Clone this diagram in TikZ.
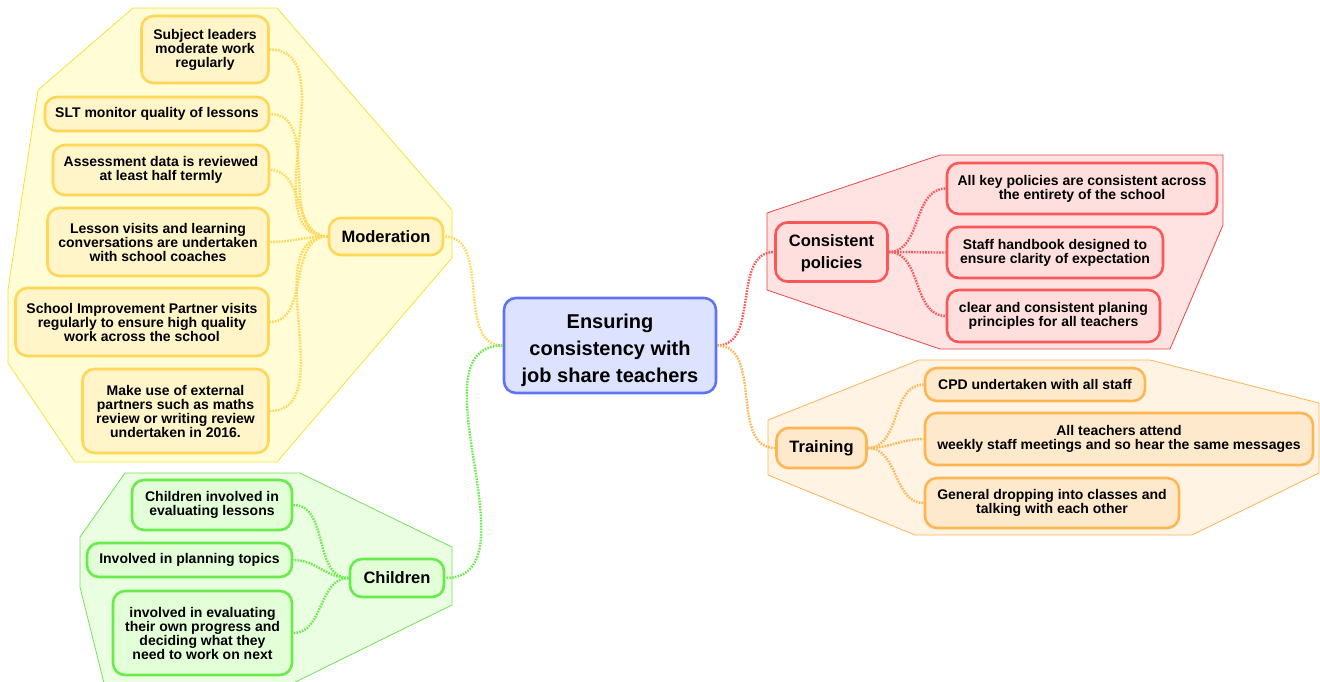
\documentclass[tikz,border=0pt]{standalone}
\usepackage{fontspec}
\setmainfont{Liberation Sans}
\definecolor{ylwD}{RGB}{255,214,85}
\definecolor{ylwL}{RGB}{255,245,200}
\definecolor{ylwH}{RGB}{255,252,214}
\definecolor{ylwE}{RGB}{240,228,60}
\definecolor{grnD}{RGB}{105,235,75}
\definecolor{grnL}{RGB}{226,255,216}
\definecolor{grnH}{RGB}{234,255,226}
\definecolor{grnE}{RGB}{110,228,85}
\definecolor{redD}{RGB}{250,88,88}
\definecolor{redL}{RGB}{255,222,222}
\definecolor{redH}{RGB}{255,226,226}
\definecolor{redE}{RGB}{235,70,70}
\definecolor{orgD}{RGB}{255,182,82}
\definecolor{orgL}{RGB}{255,233,204}
\definecolor{orgH}{RGB}{255,244,228}
\definecolor{orgE}{RGB}{255,178,85}
\definecolor{bluD}{RGB}{95,115,245}
\definecolor{bluL}{RGB}{221,227,255}
\begin{document}
\begin{tikzpicture}
  [x=1pt,y=-1pt,
   baseN/.style={rectangle,rounded corners=12pt,line width=2.6pt,align=center,inner sep=2pt,
                 font=\fontsize{14}{14}\selectfont\bfseries},
   mainN/.style={baseN,font=\fontsize{16.5}{22}\selectfont\bfseries},
   yN/.style={baseN,draw=ylwD,fill=ylwL},
   gN/.style={baseN,draw=grnD,fill=grnL},
   rN/.style={baseN,draw=redD,fill=redL},
   oN/.style={baseN,draw=orgD,fill=orgL},
   hull/.style={line width=0.8pt,line join=round},
   conn/.style={line width=2.4pt,dash pattern=on 1.6pt off 1.2pt}]

  \useasboundingbox (0,0) rectangle (1320,681);

  % group areas
  \fill[ylwH,draw=ylwE,hull] (133,8) -- (277,8) -- (452,210) -- (452,258) -- (277,462)
    -- (75,462) -- (8,363) -- (8,290) -- (38,90) -- cycle;
  \fill[grnH,draw=grnE,hull] (125,473) -- (300,473) -- (452,547) -- (452,605) -- (269,695)
    -- (107,695) -- (80,587) -- (80,537) -- cycle;
  \fill[redH,draw=redE,hull] (940,155) -- (1223,155) -- (1223,225) -- (1170,349)
    -- (940,349) -- (767,290) -- (767,213) -- cycle;
  \fill[orgH,draw=orgE,hull] (919,360) -- (1150,360) -- (1319,403) -- (1319,473)
    -- (1192,535) -- (915,535) -- (768,475) -- (768,420) -- cycle;

  \node[baseN,draw=bluD,fill=bluL,font=\fontsize{20}{27}\selectfont\bfseries,
        minimum width=212,minimum height=95] (c) at (610,345.5)
        {\rule{0pt}{25pt}Ensuring\\consistency with\\job share teachers};

  \node[mainN,draw=ylwD,fill=ylwL,minimum width=114,minimum height=37] (mod) at (386,236.5) {Moderation};
  \node[mainN,draw=grnD,fill=grnL,minimum width=94,minimum height=38] (chi) at (397,578) {Children};
  \node[mainN,draw=redD,fill=redL,minimum width=112,minimum height=59] (pol) at (831.5,252) {\rule{0pt}{15pt}Consistent\\policies};
  \node[mainN,draw=orgD,fill=orgL,minimum width=90,minimum height=40] (tra) at (821.5,448) {Training};

  \node[yN,minimum width=127,minimum height=67] (m1) at (205,49.5) {Subject leaders\\moderate work\\regularly};
  \node[yN,minimum width=224,minimum height=34] (m2) at (157,114) {SLT monitor quality of lessons};
  \node[yN,minimum width=216,minimum height=50] (m3) at (161,170) {Assessment data is reviewed\\at least half termly};
  \node[yN,minimum width=221,minimum height=68] (m4) at (158,242) {Lesson visits and learning\\conversations are undertaken\\with school coaches};
  \node[yN,minimum width=253,minimum height=68] (m5) at (142,322) {School Improvement Partner visits\\regularly to ensure high quality\\work across the school};
  \node[yN,minimum width=186,minimum height=84] (m6) at (175.5,411) {Make use of external\\partners such as maths\\review or writing review\\undertaken in 2016.};

  \node[gN,minimum width=160,minimum height=50] (g1) at (212,505) {Children involved in\\evaluating lessons};
  \node[gN,minimum width=205,minimum height=34] (g2) at (189.5,560) {Involved in planning topics};
  \node[gN,minimum width=179,minimum height=84] (g3) at (202.5,633) {involved in evaluating\\their own progress and\\deciding what they\\need to work on next};

  \node[rN,minimum width=270,minimum height=51] (r1) at (1082,188.5) {All key policies are consistent across\\the entirety of the school};
  \node[rN,minimum width=216,minimum height=51] (r2) at (1055,252.5) {Staff handbook designed to\\ensure clarity of expectation};
  \node[rN,minimum width=213,minimum height=52] (r3) at (1053.5,316) {clear and consistent planing\\principles for all teachers};

  \node[oN,minimum width=220,minimum height=33] (o1) at (1035,384.5) {CPD undertaken with all staff};
  \node[oN,minimum width=388,minimum height=52] (o2) at (1119,439) {All teachers attend\\weekly staff meetings and so hear the same messages};
  \node[oN,minimum width=254,minimum height=50] (o3) at (1052,503) {General dropping into classes and\\talking with each other};

  \draw[conn,ylwD] (c.west) to[out=180,in=0] (mod.east);
  \draw[conn,grnD] (c.west) to[out=180,in=0] (chi.east);
  \draw[conn,redD] (c.east) to[out=0,in=180] (pol.west);
  \draw[conn,orgD] (c.east) to[out=0,in=180] (tra.west);

  \foreach \k in {m1,m2,m3,m4,m5,m6}
    \draw[conn,ylwD] (mod.west) to[out=180,in=0] (\k.east);
  \foreach \k in {g1,g2,g3}
    \draw[conn,grnD] (chi.west) to[out=180,in=0] (\k.east);
  \foreach \k in {r1,r2,r3}
    \draw[conn,redD] (pol.east) to[out=0,in=180] (\k.west);
  \foreach \k in {o1,o2,o3}
    \draw[conn,orgD] (tra.east) to[out=0,in=180] (\k.west);
\end{tikzpicture}
\end{document}
